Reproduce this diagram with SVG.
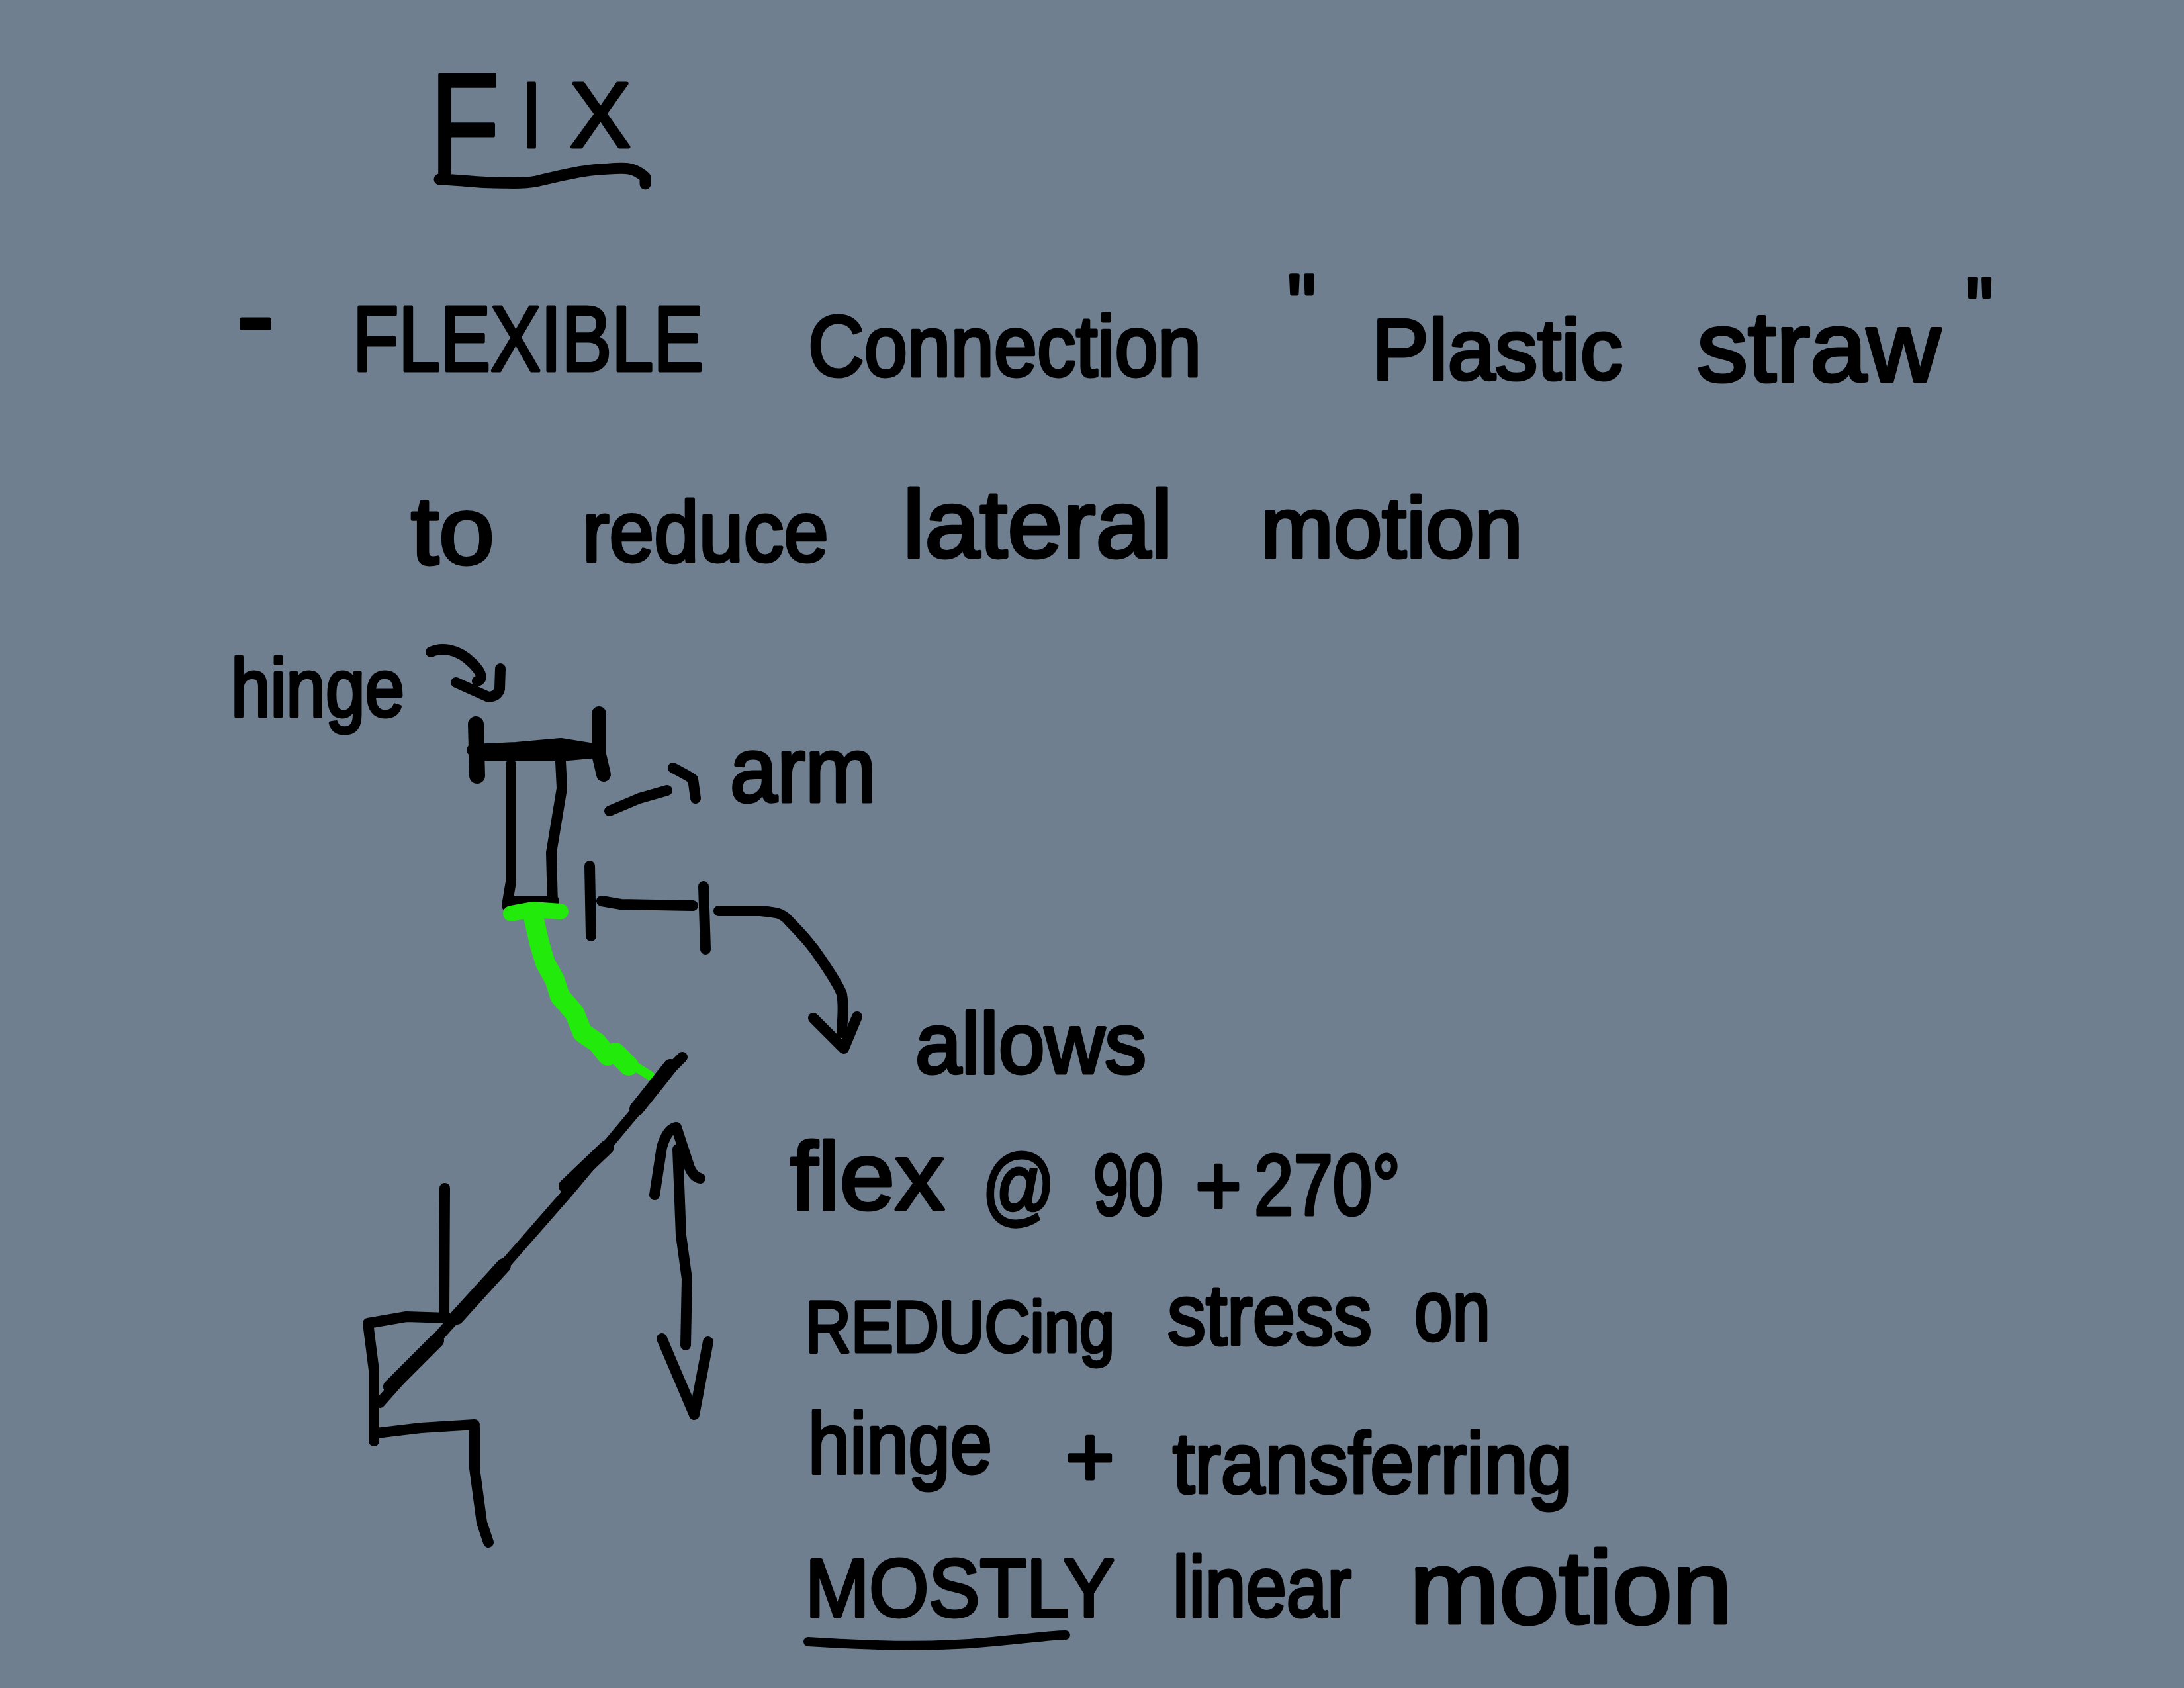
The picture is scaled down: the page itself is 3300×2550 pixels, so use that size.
<svg xmlns="http://www.w3.org/2000/svg" width="3300" height="2550" viewBox="0 0 3300 2550">
<style>
text{font-family:"Liberation Sans",Arial,sans-serif;fill:#000;stroke:#000;stroke-width:5px;stroke-linejoin:round}
.t{font-size:130px}
.s{fill:none;stroke:#000;stroke-width:16px;stroke-linecap:round;stroke-linejoin:round}
.g{fill:none;stroke:#22ea0a;stroke-linecap:round;stroke-linejoin:round}
</style>
<rect width="3300" height="2550" fill="#707f90"/>
<g id="title">
<text><tspan x="650" y="268" font-size="225" textLength="105" lengthAdjust="spacingAndGlyphs">F</tspan><tspan x="788" y="222" font-size="140" textLength="30" lengthAdjust="spacingAndGlyphs">I</tspan><tspan x="861" y="222" font-size="140" textLength="92" lengthAdjust="spacingAndGlyphs">X</tspan></text>
<path class="s" d="M664 271C700 272 720 276 746 276S790 278 810 274S870 258 906 256S955 250 975 268L975 278" style="stroke-width:17px"/>
</g>
<g id="body">
<text class="t"><tspan x="357" y="537" font-size="180" textLength="58" lengthAdjust="spacingAndGlyphs">-</tspan><tspan x="533" y="560" font-size="140" textLength="530" lengthAdjust="spacingAndGlyphs">FLEXIBLE</tspan><tspan x="1221" y="568" textLength="594" lengthAdjust="spacingAndGlyphs">Connection</tspan><tspan x="1945" y="505" textLength="44" lengthAdjust="spacingAndGlyphs">"</tspan><tspan x="2073" y="573" textLength="379" lengthAdjust="spacingAndGlyphs">Plastic</tspan><tspan x="2564" y="576" font-size="150" textLength="368" lengthAdjust="spacingAndGlyphs">straw</tspan><tspan x="2970" y="510" textLength="42" lengthAdjust="spacingAndGlyphs">"</tspan></text>
<text class="t"><tspan x="621" y="852" font-size="145" textLength="126" lengthAdjust="spacingAndGlyphs">to</tspan><tspan x="880" y="848" textLength="372" lengthAdjust="spacingAndGlyphs">reduce</tspan><tspan x="1364" y="842" font-size="145" textLength="408" lengthAdjust="spacingAndGlyphs">lateral</tspan><tspan x="1905" y="842" textLength="396" lengthAdjust="spacingAndGlyphs">motion</tspan></text>
<text class="t"><tspan x="1383" y="1621" textLength="349" lengthAdjust="spacingAndGlyphs">allows</tspan></text>
<text class="t"><tspan x="1194" y="1827" font-size="145" textLength="233" lengthAdjust="spacingAndGlyphs">flex</tspan><tspan x="1484" y="1835" textLength="110" lengthAdjust="spacingAndGlyphs">@</tspan><tspan x="1652" y="1835" textLength="106" lengthAdjust="spacingAndGlyphs">90</tspan><tspan x="1806" y="1835" textLength="70" lengthAdjust="spacingAndGlyphs">+</tspan><tspan x="1895" y="1835" textLength="221" lengthAdjust="spacingAndGlyphs">270°</tspan></text>
<text class="t"><tspan x="1217" y="2042" font-size="110" textLength="467" lengthAdjust="spacingAndGlyphs">REDUCing</tspan><tspan x="1764" y="2031" textLength="309" lengthAdjust="spacingAndGlyphs">stress</tspan><tspan x="2137" y="2025" textLength="115" lengthAdjust="spacingAndGlyphs">on</tspan></text>
<text class="t"><tspan x="1221" y="2225" textLength="278" lengthAdjust="spacingAndGlyphs">hinge</tspan><tspan x="1610" y="2245" textLength="74" lengthAdjust="spacingAndGlyphs">+</tspan><tspan x="1772" y="2255" textLength="603" lengthAdjust="spacingAndGlyphs">transferring</tspan></text>
<text class="t"><tspan x="1217" y="2442" font-size="125" textLength="467" lengthAdjust="spacingAndGlyphs">MOSTLY</tspan><tspan x="1772" y="2442" textLength="270" lengthAdjust="spacingAndGlyphs">linear</tspan><tspan x="2130" y="2452" font-size="155" textLength="487" lengthAdjust="spacingAndGlyphs">motion</tspan></text>
<path class="s" d="M1221 2480C1300 2485 1400 2490 1500 2480S1600 2470 1610 2470" style="stroke-width:14px"/>
</g>
<g id="hinge-label">
<text class="t"><tspan x="349" y="1082" font-size="125" textLength="262" lengthAdjust="spacingAndGlyphs">hinge</tspan></text>
<path class="s" d="M651 985C665 978 690 978 714 1002S721 1029 721 1029"/>
<path class="s" d="M689 1031L738 1053Q752 1052 755 1041L756 1010"/>
</g>
<g id="hinge-bar">
<path class="s" style="stroke-width:24px" d="M719 1094L721 1172"/>
<path class="s" style="stroke-width:22px" d="M905 1078L905 1140L912 1170"/>
<path class="s" style="stroke-width:18px" d="M714 1133L780 1130L847 1124L903 1133M735 1141L847 1141L903 1136"/>
</g>
<g id="arm">
<path class="s" d="M772 1155L772 1332L766 1368"/>
<path class="s" d="M847 1150L849 1191L833 1288L835 1366"/>
<path class="s" d="M770 1361L837 1361"/>
<text class="t"><tspan x="1103" y="1211" font-size="140" textLength="221" lengthAdjust="spacingAndGlyphs">arm</tspan></text>
<path class="s" d="M921 1225L966 1206L1008 1194"/>
<path class="s" d="M1017 1160Q1040 1172 1047 1177L1051 1206"/>
</g>
<g id="flex-connector">
<path class="g" style="stroke-width:24px" d="M772 1380L805 1374L847 1377"/>
<path class="g" style="stroke-width:30px" d="M806 1385L815 1425L824 1455L838 1480L846 1505L868 1530L880 1560L902 1575L918 1595L930 1590L950 1610"/>
<path class="g" style="stroke-width:14px" d="M950 1605L982 1625"/>
</g>
<g id="gap-callout">
<path class="s" d="M891 1308L893 1414"/>
<path class="s" d="M909 1361L938 1366L1047 1368"/>
<path class="s" d="M1063 1339L1066 1434"/>
<path class="s" d="M1086 1376L1149 1376C1170 1378 1180 1378 1191 1390C1210 1410 1225 1425 1240 1448C1255 1470 1268 1490 1272 1502C1276 1525 1272 1545 1272 1560"/>
<path class="s" d="M1229 1538L1275 1584L1295 1536"/>
</g>
<g id="lever">
<path class="s" d="M1031 1597L1007 1621L958 1682L859 1800L761 1912L676 2004L574 2119"/>
<path class="s" style="stroke-width:22px" d="M1013 1611L962 1675M855 1792L917 1733M761 1912L690 1990M660 2025L590 2095"/>
<path class="s" d="M672 1795L671 1989"/>
<path class="s" d="M676 1991L614 1989L556 1999L565 2070L565 2177"/>
<path class="s" d="M569 2165L636 2157L717 2152"/>
<path class="s" d="M717 2157L717 2218L728 2300L738 2330"/>
</g>
<g id="motion-arrow">
<path class="s" d="M1024 1736L1029 1866L1038 1932L1036 2032"/>
<path class="s" d="M989 1805L1000 1733Q1008 1705 1022 1703L1042 1764Q1048 1778 1058 1780"/>
<path class="s" d="M1000 2022L1049 2137L1070 2027"/>
</g>
</svg>
